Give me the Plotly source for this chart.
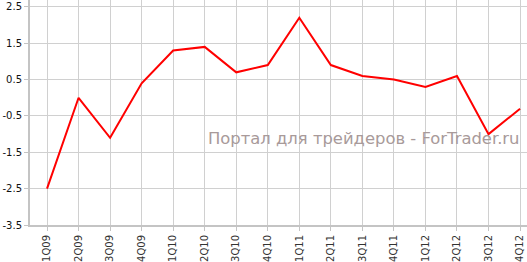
import plotly.graph_objects as go

quarters = ["1Q09", "2Q09", "3Q09", "4Q09", "1Q10", "2Q10", "3Q10", "4Q10",
            "1Q11", "2Q11", "3Q11", "4Q11", "1Q12", "2Q12", "3Q12", "4Q12"]
values = [-2.5, 0.0, -1.1, 0.4, 1.3, 1.4, 0.7, 0.9,
          2.2, 0.9, 0.6, 0.5, 0.3, 0.6, -1.0, -0.3]
y_ticks = [2.5, 1.5, 0.5, -0.5, -1.5, -2.5, -3.5]
watermark = "Портал для трейдеров - ForTrader.ru"

fig = go.Figure()
fig.add_trace(go.Scatter(x=quarters, y=values, mode="lines",
                         line=dict(color="#ff0000", width=2), hoverinfo="skip"))

fig.add_annotation(text=watermark, xref="paper", yref="paper", x=0.99, y=0.385,
                   xanchor="right", yanchor="middle", showarrow=False,
                   font=dict(family="DejaVu Sans", size=16.4, color="#a89a9a"))

fig.update_layout(
    width=527, height=262,
    margin=dict(l=30, r=0, t=0, b=34),
    paper_bgcolor="white", plot_bgcolor="white",
    showlegend=False,
    font=dict(family="DejaVu Sans", size=10, color="#222"),
    xaxis=dict(type="category", categoryorder="array", categoryarray=quarters,
               range=[-0.54, 15.22], tickangle=-90, showgrid=True,
               gridcolor="#d0d0d0", gridwidth=1, showline=True, linecolor="#c4c4c4",
               linewidth=2, ticks="outside", ticklen=4, tickcolor="#c4c4c4",
               tickfont=dict(size=10, color="#333"), zeroline=False, fixedrange=True),
    yaxis=dict(range=[-3.5, 2.69], tickvals=y_ticks, ticktext=[str(v) for v in y_ticks],
               showgrid=True, gridcolor="#d0d0d0", gridwidth=1, showline=True,
               linecolor="#c4c4c4", linewidth=2, ticks="outside", ticklen=4,
               tickcolor="#c4c4c4", tickfont=dict(size=10, color="#111"),
               zeroline=False, fixedrange=True),
)

fig.write_html("out.html", config={"displayModeBar": False})
